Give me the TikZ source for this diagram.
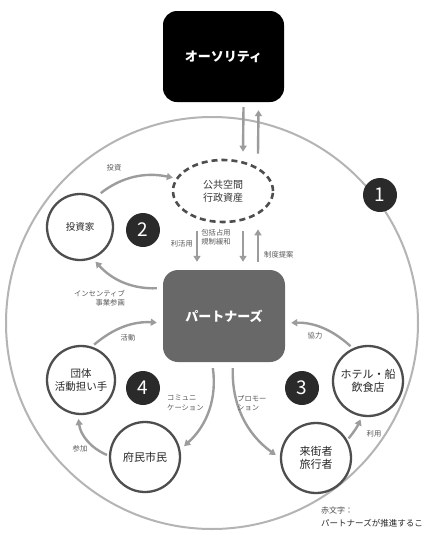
\documentclass[tikz,border=0pt]{standalone}
\usepackage{fontspec}
\setmainfont{Noto Sans CJK JP}
\usetikzlibrary{shapes.geometric,arrows.meta}
\definecolor{arrgray}{HTML}{9C9C9C}
\definecolor{ringgray}{HTML}{4E4E4E}
\definecolor{biggray}{HTML}{B4B4B4}
\definecolor{labgray}{HTML}{5A5A5A}
\definecolor{partfill}{HTML}{686868}
\definecolor{badgefill}{HTML}{2A2A2A}
\tikzset{
  arr/.style={draw=arrgray, line width=2.4pt, -{Triangle[length=6pt,width=7pt]}},
  actor/.style={circle, draw=ringgray, line width=2.3pt, fill=white, minimum size=#1, inner sep=0pt, align=center, font=\fontsize{11}{13}\selectfont, text=black!85},
  badge/.style={circle, fill=badgefill, minimum size=34pt, inner sep=0pt, text=white, font=\fontsize{19}{19}\selectfont},
  lab/.style={font=\fontsize{7.3}{9.5}\selectfont, text=labgray, inner sep=0pt},
}
\begin{document}
\begin{tikzpicture}[x=1pt,y=-1pt]
\useasboundingbox (0,0) rectangle (426,536);
\fill[white] (0,0) rectangle (426,536);
% big ring
\draw[biggray, line width=2pt] (212,323) circle (206);
% authority
\node[rectangle, rounded corners=14pt, fill=black, minimum width=121pt, minimum height=91pt, text=white, font=\fontsize{13}{14}\selectfont\bfseries] (auth) at (223.5,56.5) {オーソリティ};
% public space
\node[ellipse, draw=ringgray, line width=2.6pt, dash pattern=on 6pt off 4pt, minimum width=100pt, minimum height=62pt, align=center, font=\fontsize{10}{13}\selectfont, text=black!80] (pub) at (223,191) {公共空間\\行政資産};
% partners
\node[rectangle, rounded corners=15pt, fill=partfill, minimum width=122pt, minimum height=92pt, text=white, font=\fontsize{13}{14}\selectfont\bfseries] (part) at (224,316) {パートナーズ};
% actors
\node[actor=66pt, font=\fontsize{9.5}{12}\selectfont] (inv) at (80,227) {投資家};
\node[actor=68pt, font=\fontsize{10.5}{13}\selectfont] (grp) at (81,380) {団体\\活動担い手};
\node[actor=70pt] (cit) at (145,457) {府民市民};
\node[actor=70pt] (hot) at (368,381) {ホテル・船\\飲食店};
\node[actor=70pt] (vis) at (316,458) {来街者\\旅行者};
% badges
\node[badge] (b1) at (380,195) {1};
\node[badge] (b2) at (143,230) {2};
\node[badge] (b3) at (302,388) {3};
\node[badge] (b4) at (143,388) {4};
% authority <-> public
\draw[arr] ([xshift=20pt,yshift=-5pt]auth.south) -- ([xshift=20pt,yshift=7pt]pub.north);
\draw[arr] ([xshift=35pt,yshift=5pt]pub.north) -- ([xshift=35pt,yshift=-8pt]auth.south);
% public <-> partners
\draw[arr] ([xshift=-26pt,yshift=-8pt]pub.south) -- ([xshift=-27pt,yshift=8pt]part.north);
\draw[arr] ([xshift=20pt,yshift=-8pt]pub.south) -- ([xshift=19pt,yshift=8pt]part.north);
\draw[arr] ([xshift=34pt,yshift=8pt]part.north) -- ([xshift=35pt,yshift=-6pt]pub.south);
\node[lab, anchor=east] (l1) at (193,244) {利活用};
\node[lab, align=center] (l2) at (216,237) {包括占用\\規制緩和};
\node[lab, anchor=west] (l3) at (264,255) {制度提案};
% investor
\draw[arr, shorten <=6pt, shorten >=3pt] (inv.62) to[bend left=25] (pub.165);
\node[lab] (l4) at (114,168) {投資};
\draw[arr, shorten <=6pt, shorten >=4pt] ([yshift=28pt]part.west) to[bend left=25] (inv.-68);
\node[lab, align=right, anchor=east] (l5) at (125,298) {インセンティブ\\事業参画};
% group / citizens
\draw[arr, shorten <=3pt, shorten >=6pt] (grp.72) to[bend left=22] ([yshift=-7pt]part.west);
\node[lab] (l6) at (128,338) {活動};
\draw[arr, shorten <=2pt, shorten >=4pt] (cit.178) to[bend left=30] (grp.-95);
\node[lab] (l7) at (80,449) {参加};
\draw[arr, shorten <=6pt, shorten >=5pt] ([xshift=-12pt]part.south) to[bend left=28] (cit.12);
\node[lab, align=left, anchor=west] (l8) at (167,403) {コミュニ\\ケーション};
% hotel / visitors
\draw[arr, shorten <=6pt, shorten >=5pt] ([xshift=9pt]part.south) to[bend right=28] (vis.180);
\node[lab, align=left, anchor=west] (l9) at (237,403) {プロモー\\ション};
\draw[arr, shorten <=2pt, shorten >=3pt] (vis.30) to[bend right=8] (hot.-100);
\node[lab] (l10) at (374,434) {利用};
\draw[arr, shorten <=3pt, shorten >=6pt] (hot.115) to[bend right=22] ([yshift=-7pt]part.east);
\node[lab] (l11) at (315,336) {協力};
% note
\node[font=\fontsize{8}{10}\selectfont, text=black!70, anchor=west, inner sep=0pt] (n1) at (321,510) {赤文字：};
\node[font=\fontsize{8.5}{10}\selectfont, text=black!85, anchor=west, inner sep=0pt] (n2) at (321,523) {パートナーズが推進するこ};
\end{tikzpicture}
\end{document}
